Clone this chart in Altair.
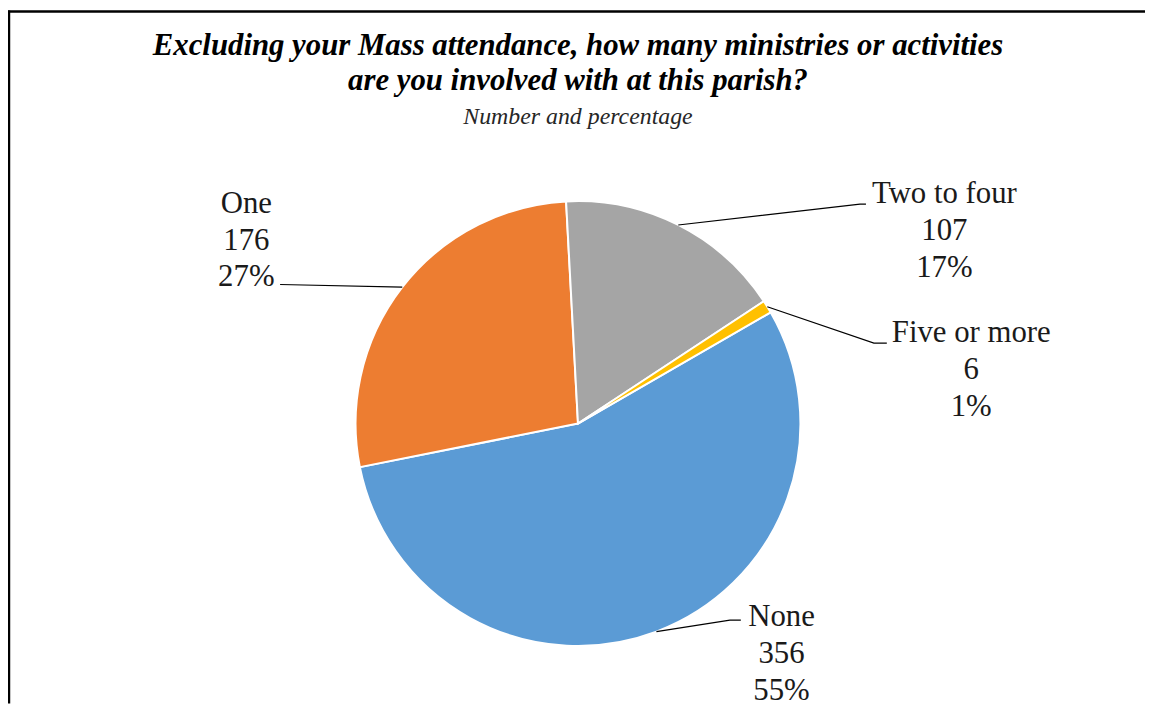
import math
import pandas as pd
import altair as alt

# ---- data ----
categories = ["None", "One", "Two to four", "Five or more"]
counts = [356, 176, 107, 6]
colors = ["#5B9BD5", "#ED7D31", "#A5A5A5", "#FFC000"]

title_lines = ["Excluding your Mass attendance, how many ministries or activities",
               "are you involved with at this parish?"]
subtitle = "Number and percentage"

# ---- layout (pixels) ----
W, H = 1145, 698
CX, CY, R = 574, 416, 224
FIRST_SLICE_DEG = 60
SERIF = "Liberation Serif"
# label layout offsets relative to pie centre: elbow point, tail end, first-line centre
label_layout = {
    "None":         {"elbow": (153, 198),  "tail": (164, 198),  "text": (205, 195)},
    "One":          {"elbow": (-300, -140), "tail": (-300, -140), "text": (-334, -221)},
    "Two to four":  {"elbow": (284, -221), "tail": (290, -221), "text": (369, -231)},
    "Five or more": {"elbow": (298, -81),  "tail": (311, -81),  "text": (396, -91)},
}

total = sum(counts)
t0 = math.radians(FIRST_SLICE_DEG)

pie_df = pd.DataFrame({"category": categories, "count": counts,
                       "idx": list(range(len(categories)))})

line_rows, text_rows = [], []
cum = 0
for cat, v in zip(categories, counts):
    mid = t0 + 2 * math.pi * (cum + v / 2) / total
    cum += v
    ex, ey = CX + R * math.sin(mid), CY - R * math.cos(mid)
    lay = label_layout[cat]
    pts = [(ex, ey), (CX + lay["elbow"][0], CY + lay["elbow"][1]),
           (CX + lay["tail"][0], CY + lay["tail"][1])]
    for i, (px, py) in enumerate(pts):
        line_rows.append({"category": cat, "seq": i, "px": px, "py": py})
    pct = round(v / total * 100)
    text_rows.append({"category": cat, "label": f"{cat}\n{v}\n{pct}%",
                      "px": CX + lay["text"][0], "py": CY + lay["text"][1]})

line_df = pd.DataFrame(line_rows)
text_df = pd.DataFrame(text_rows)

xs = alt.Scale(domain=[0, W], range=[0, W])
ys = alt.Scale(domain=[0, H], range=[0, H])

arcs = alt.Chart(pie_df).mark_arc(outerRadius=R, stroke="white", strokeWidth=2).encode(
    theta=alt.Theta("count:Q", stack=True, scale=alt.Scale(range=[t0, t0 + 2 * math.pi])),
    order=alt.Order("idx:Q"),
    color=alt.Color("category:N", scale=alt.Scale(domain=categories, range=colors), legend=None),
    x=alt.value(CX), y=alt.value(CY),
)

leaders = alt.Chart(line_df).mark_line(color="black", strokeWidth=1.2).encode(
    x=alt.X("px:Q", scale=xs, axis=None),
    y=alt.Y("py:Q", scale=ys, axis=None),
    detail="category:N",
    order="seq:Q",
)

labels = alt.Chart(text_df).mark_text(
    font=SERIF, fontSize=31, lineHeight=37, lineBreak="\n",
    align="center", baseline="middle", color="#1a1a1a"
).encode(
    x=alt.X("px:Q", scale=xs, axis=None),
    y=alt.Y("py:Q", scale=ys, axis=None),
    text="label:N",
)

one = alt.Data(values=[{}])
t1 = alt.Chart(one).mark_text(font=SERIF, fontSize=31, fontStyle="italic",
                              fontWeight="bold", align="center", baseline="alphabetic",
                              color="black").encode(
    x=alt.value(CX), y=alt.value(45), text=alt.value(title_lines[0]))
t2 = alt.Chart(one).mark_text(font=SERIF, fontSize=31, fontStyle="italic",
                              fontWeight="bold", align="center", baseline="alphabetic",
                              color="black").encode(
    x=alt.value(CX), y=alt.value(80), text=alt.value(title_lines[1]))
t3 = alt.Chart(one).mark_text(font=SERIF, fontSize=24, fontStyle="italic",
                              align="center", baseline="alphabetic",
                              color="#262626").encode(
    x=alt.value(CX), y=alt.value(114), text=alt.value(subtitle))

border_left = alt.Chart(one).mark_rule(color="black", strokeWidth=2.5).encode(
    x=alt.value(1), y=alt.value(0), y2=alt.value(H))
border_top = alt.Chart(one).mark_rule(color="black", strokeWidth=2.5).encode(
    x=alt.value(0), x2=alt.value(W), y=alt.value(1))

chart = alt.layer(arcs, leaders, labels, t1, t2, t3, border_left, border_top).properties(
    width=W, height=H, autosize=alt.AutoSizeParams(type="none"), padding=0
).configure(background="white").configure_view(stroke=None)

chart.save("out.html", embed_options={"renderer": "svg", "actions": False})
